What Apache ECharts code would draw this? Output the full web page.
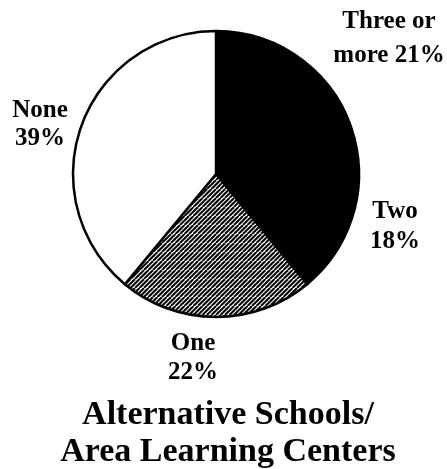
<!DOCTYPE html>
<html>
<head>
<meta charset="utf-8">
<script src="https://cdn.jsdelivr.net/npm/echarts@6/dist/echarts.min.js"></script>
<style>
html,body{margin:0;padding:0;background:#fff;}
#chart{width:447px;height:469px;}
</style>
</head>
<body>
<div id="chart"></div>
<script>
// Data
var categories = ['Three or more', 'Two', 'One', 'None'];
var values = [21, 18, 22, 39];
var labelHeads = ['Three or\nmore ', 'Two\n', 'One\n', 'None\n'];
var titleLines = ['Alternative Schools/', 'Area Learning Centers'];

// Styles / layout (kept separate from data)
var hatch = (function () {
  var c = document.createElement('canvas');
  c.width = 9; c.height = 9;
  var g = c.getContext('2d');
  g.fillStyle = '#fff';
  g.fillRect(0, 0, 9, 9);
  g.strokeStyle = '#000';
  g.lineWidth = 2;
  for (var k = -3; k <= 4; k++) {
    g.beginPath();
    g.moveTo(k * 4.5, 9);
    g.lineTo(k * 4.5 + 9, 0);
    g.stroke();
  }
  return c;
})();
var fills = ['#000', '#000', { image: hatch, repeat: 'repeat' }, '#fff'];
var labelPos = [[389, 39], [395, 227], [193, 358], [40, 125]];
var labelLH = [34, 30, 29, 28];

var chart = echarts.init(document.getElementById('chart'), null, { renderer: 'canvas' });
chart.setOption({
  animation: false,
  backgroundColor: '#fff',
  title: {
    text: titleLines.join('\n'),
    left: 223,
    top: 392,
    textAlign: 'center',
    textStyle: {
      fontFamily: 'Liberation Serif',
      fontWeight: 'bold',
      fontSize: 34,
      lineHeight: 37,
      color: '#000'
    }
  },
  series: [{
    type: 'pie',
    center: [216, 174],
    radius: 143,
    startAngle: 90,
    clockwise: true,
    avoidLabelOverlap: false,
    silent: true,
    label: {
      show: true,
      color: '#000',
      fontFamily: 'Liberation Serif',
      fontWeight: 'bold',
      fontSize: 25,
      align: 'center',
      formatter: function (p) { return labelHeads[p.dataIndex] + p.value + '%'; }
    },
    labelLine: { show: false },
    labelLayout: function (p) {
      var pos = labelPos[p.dataIndex];
      return { x: pos[0], y: pos[1], align: 'center', verticalAlign: 'middle' };
    },
    data: categories.map(function (name, i) {
      return {
        name: name,
        value: values[i],
        label: { lineHeight: labelLH[i] },
        itemStyle: { color: fills[i], borderColor: '#000', borderWidth: 2.5 }
      };
    })
  }]
});
</script>
</body>
</html>
